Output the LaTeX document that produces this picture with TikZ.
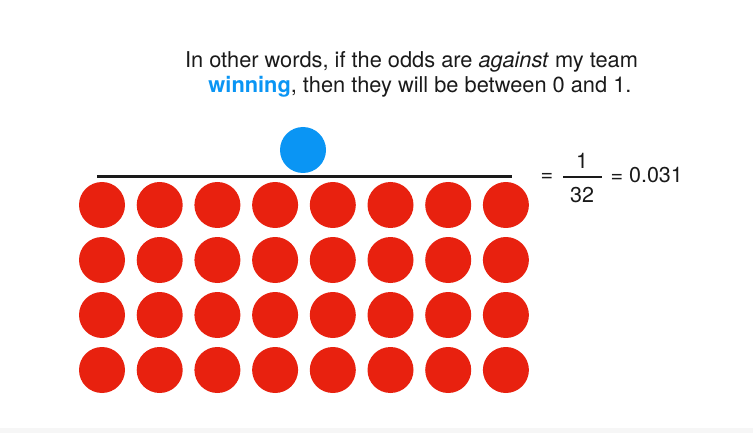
\documentclass[tikz,border=0pt]{standalone}
\usepackage{fontspec}
\setmainfont{TeX Gyre Heros}
\usetikzlibrary{positioning}
\definecolor{ball}{HTML}{E8210F}
\definecolor{win}{HTML}{0A95F4}
\definecolor{ink}{HTML}{1A1A1A}
\definecolor{band}{HTML}{F6F6F6}

\begin{document}
\begin{tikzpicture}[x=1pt, y=-1pt, font=\fontsize{21.8}{25}\selectfont, text=ink]
    \useasboundingbox (0,0) rectangle (753,433);
    \fill[band] (0,428) rectangle (753,433);
    \node[anchor=base] (line1) at (411.5,68) {In other words, if the odds are \textit{against} my team};
    \node[anchor=base] (line2) at (420,93) {\textcolor{win}{\textbf{winning}}, then they will be between 0 and 1.};
    \draw[ink, line width=3pt] (97,177) -- (512,177);
    \fill[win] (303,150) circle (23);
    \foreach \c in {0,...,7}
      \foreach \r in {0,...,3} { \fill[ball] (102+57.7*\c,205+55*\r) circle (23); }
    \begin{scope}[font=\fontsize{21.5}{24}\selectfont]
      \node (eqa) at (547,177) {=};
      \node[anchor=base] (num) at (582,169) {1};
      \node[anchor=base] (den) at (582,203) {32};
      \draw[ink, line width=2pt] (563,177) -- (602,177);
      \node[anchor=base west] (val) at (607,183) {= 0.031};
    \end{scope}
  \end{tikzpicture}
\end{document}
